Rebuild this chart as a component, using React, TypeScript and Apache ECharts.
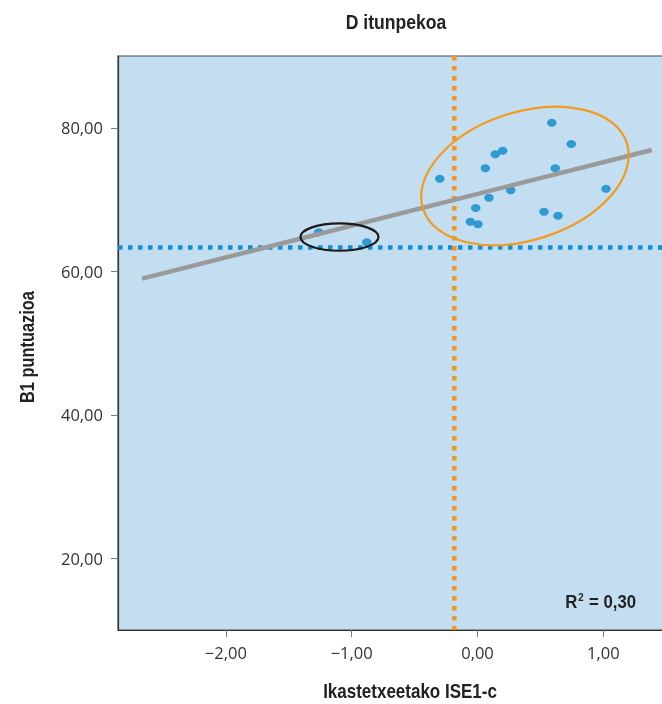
import React, { useEffect, useRef } from "react";
import * as echarts from "echarts";

// Axis ticks / ranges
const X_TICKS = [-2, -1, 0, 1];
const Y_TICKS = [20, 40, 60, 80];
const X_RANGE = [-2.857, 1.625];
const Y_RANGE = [10, 90];

// School points: ISE1-c (x) and B1 score (y)
const schoolX = [0.59, 0.745, 0.2, 0.141, 0.062, 0.618, -0.3, 0.264, 0.091, -0.014, 1.021, 0.528, 0.64, -0.057, 0.004, -1.262, -0.88];
const schoolY = [80.7, 77.74, 76.8, 76.3, 74.35, 74.35, 72.9, 71.28, 70.25, 68.82, 71.51, 68.3, 67.74, 66.91, 66.54, 65.43, 64.03];

// Regression line end points
const fitX = [-2.666, 1.384];
const fitY = [58.98, 76.9];

// Reference (mean) lines
const meanScore = 63.31;
const meanISE = -0.184;

// Highlight ellipses: centre in data units
const orangeCentre = [0.377, 73.28];
const blackCentre = [-1.097, 64.77];

const TITLE = "D itunpekoa";
const X_NAME = "Ikastetxeetako ISE1-c";
const Y_NAME = "B1 puntuazioa";
const R2_VALUE = "0,30";

const BOLD_FONT = '"Liberation Sans", Arial, sans-serif';
const REG_FONT = '"Open Sans", "Liberation Sans", sans-serif';

const fmt = (v: number) => (v < 0 ? "\u2212" : "") + Math.abs(v).toFixed(2).replace(".", ",");

export default function App() {
  const ref = useRef<HTMLDivElement>(null);
  useEffect(() => {
    if (!ref.current) return;
    const chart = echarts.init(ref.current, undefined, { renderer: "svg" });
    const option: any = {
      animation: false,
      grid: {
        left: 118,
        top: 56,
        right: 18,
        bottom: 74,
        show: true,
        backgroundColor: "#c3def0",
        borderColor: "#4a4a4a",
        borderWidth: 1.2,
      },
      xAxis: {
        type: "value",
        min: X_RANGE[0],
        max: X_RANGE[1],
        splitLine: { show: false },
        axisLine: { show: true, onZero: false, lineStyle: { color: "#333", width: 1.2 } },
        axisTick: { show: true, customValues: X_TICKS, length: 7, lineStyle: { color: "#777" } },
        axisLabel: {
          customValues: X_TICKS,
          formatter: fmt,
          margin: 14,
          fontSize: 16.5,
          fontFamily: REG_FONT,
          color: "#333",
        },
      },
      yAxis: {
        type: "value",
        min: Y_RANGE[0],
        max: Y_RANGE[1],
        splitLine: { show: false },
        axisLine: { show: true, onZero: false, lineStyle: { color: "#333", width: 1.2 } },
        axisTick: { show: true, customValues: Y_TICKS, length: 7, lineStyle: { color: "#777" } },
        axisLabel: {
          customValues: Y_TICKS,
          formatter: fmt,
          margin: 15,
          fontSize: 16.5,
          fontFamily: REG_FONT,
          color: "#333",
        },
      },
      series: [
        {
          type: "line",
          name: "mean score",
          data: [[X_RANGE[0], meanScore], [X_RANGE[1], meanScore]],
          symbol: "none",
          lineStyle: { color: "#0f8fd4", width: 4.5, type: [4.5, 5.5], cap: "butt" },
          z: 2,
        },
        {
          type: "line",
          name: "mean ISE",
          data: [[meanISE, Y_RANGE[1]], [meanISE, Y_RANGE[0]]],
          symbol: "none",
          lineStyle: { color: "#f7941d", width: 4.5, type: [4.5, 5.5], cap: "butt" },
          z: 2,
        },
        {
          type: "scatter",
          name: "schools",
          data: schoolX.map((x, i) => [x, schoolY[i]]),
          symbol: "circle",
          symbolSize: [9.5, 8],
          itemStyle: { color: "#0b8acb" },
          z: 3,
        },
        {
          type: "line",
          name: "fit",
          data: fitX.map((x, i) => [x, fitY[i]]),
          symbol: "none",
          lineStyle: { color: "#9a9a9a", width: 4.5 },
          z: 4,
        },
      ],
    };
    chart.setOption(option);

    const oc = chart.convertToPixel({ xAxisIndex: 0, yAxisIndex: 0 }, orangeCentre) as number[];
    const bc = chart.convertToPixel({ xAxisIndex: 0, yAxisIndex: 0 }, blackCentre) as number[];

    const boldText = (text: string, size: number) => ({
      text,
      fontFamily: BOLD_FONT,
      fontWeight: "bold",
      fontSize: size,
      fill: "#222",
      align: "center",
      verticalAlign: "middle",
    });

    chart.setOption({
      graphic: [
        {
          type: "ellipse",
          x: oc[0],
          y: oc[1],
          rotation: (17.9 * Math.PI) / 180,
          shape: { cx: 0, cy: 0, rx: 107, ry: 64 },
          style: { fill: "none", stroke: "#f39a1e", lineWidth: 2.2 },
          z: 10,
        },
        {
          type: "ellipse",
          x: bc[0],
          y: bc[1],
          shape: { cx: 0, cy: 0, rx: 39, ry: 13.7 },
          style: { fill: "none", stroke: "#1a1a1a", lineWidth: 2.2 },
          z: 10,
        },
        {
          type: "text",
          x: 396,
          y: 22,
          scaleX: 0.88,
          style: boldText(TITLE, 20),
        },
        {
          type: "text",
          x: 410,
          y: 691,
          scaleX: 0.85,
          style: boldText(X_NAME, 20),
        },
        {
          type: "text",
          x: 27,
          y: 347,
          rotation: Math.PI / 2,
          scaleX: 0.82,
          style: boldText(Y_NAME, 20),
        },
        {
          type: "text",
          x: 636,
          y: 602,
          z: 10,
          scaleX: 0.88,
          originX: 0,
          style: {
            text: "{r|R}{s|2}{r| = " + R2_VALUE + "}",
            align: "right",
            verticalAlign: "middle",
            rich: {
              r: { fontFamily: BOLD_FONT, fontWeight: "bold", fontSize: 19, fill: "#222", lineHeight: 20 },
              s: { fontFamily: BOLD_FONT, fontWeight: "bold", fontSize: 11, fill: "#222", verticalAlign: "top", padding: [0, 1, 0, 1] },
            },
          },
        },
      ],
    });
    return () => chart.dispose();
  }, []);
  return (
    <div style={{ position: "fixed", left: 0, top: 0, width: 662, height: 704, overflow: "hidden" }}>
      <div ref={ref} style={{ width: 700, height: 704 }} />
    </div>
  );
}
